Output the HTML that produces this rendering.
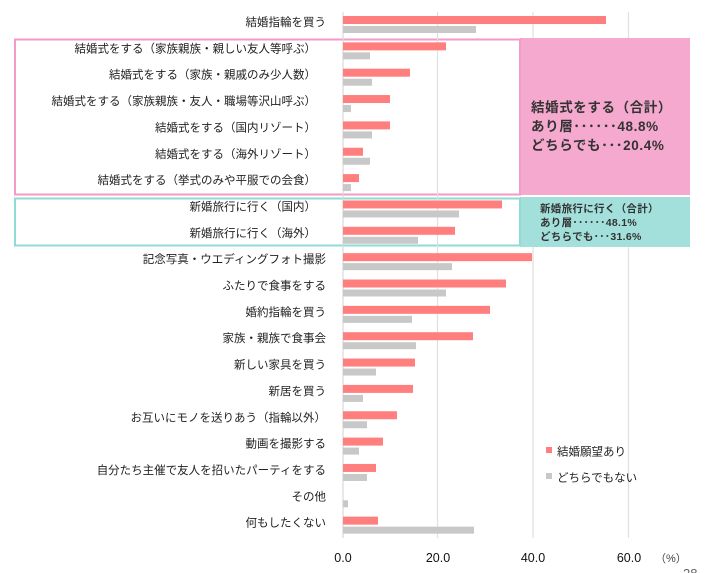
<!DOCTYPE html>
<html><head><meta charset="utf-8"><style>
html,body{margin:0;padding:0;background:#fff;}
svg{display:block;font-family:"Liberation Sans","Noto Sans CJK JP",sans-serif;}
</style></head><body>
<svg width="720" height="573" viewBox="0 0 720 573" xmlns="http://www.w3.org/2000/svg">
<rect x="0" y="0" width="720" height="573" fill="#fff"/>
<rect x="520" y="38" width="170" height="157" fill="#f5a9cf"/>
<rect x="520" y="197" width="170" height="50" fill="#a3e0dc"/>
<rect x="15" y="39.5" width="505" height="155" fill="none" stroke="#f49ac6" stroke-width="2"/>
<rect x="15" y="198.5" width="505" height="47" fill="none" stroke="#8fdbd6" stroke-width="2"/>
<g stroke="#e0e0e0" stroke-width="1.2">
<line x1="437.5" y1="12" x2="437.5" y2="538"/>
<line x1="533" y1="12" x2="533" y2="38"/><line x1="533" y1="247" x2="533" y2="538"/>
<line x1="628.5" y1="12" x2="628.5" y2="38"/><line x1="628.5" y1="247" x2="628.5" y2="538"/>
</g>
<line x1="343" y1="12" x2="343" y2="538" stroke="#d9d9d9" stroke-width="1.2"/>
<g id="bars"></g>
<g font-size="11.5" fill="#222" text-anchor="end" id="labels"></g>
<g font-size="13.5" font-weight="bold" fill="#333" letter-spacing="0.6">
<text x="531" y="112">結婚式をする（合計）</text>
<text x="531" y="131">あり層･･････48.8%</text>
<text x="531" y="150">どちらでも･･･20.4%</text>
</g>
<g font-size="10.5" font-weight="bold" fill="#333" letter-spacing="0.3">
<text x="540" y="212">新婚旅行に行く（合計）</text>
<text x="540" y="226">あり層･･････48.1%</text>
<text x="540" y="240">どちらでも･･･31.6%</text>
</g>
<rect x="546" y="447" width="6" height="6" fill="#ff7f7f"/>
<text x="557" y="455.5" font-size="11.5" fill="#222">結婚願望あり</text>
<rect x="546" y="473" width="6" height="6" fill="#c8c8c8"/>
<text x="557" y="481.5" font-size="11.5" fill="#222">どちらでもない</text>
<g font-size="12.5" fill="#111" text-anchor="middle">
<text x="343" y="562">0.0</text>
<text x="438" y="562">20.0</text>
<text x="533" y="562">40.0</text>
<text x="629" y="562">60.0</text>
</g>
<text x="655" y="562" font-size="11" fill="#444">（%）</text>
<text x="683" y="578" font-size="13" fill="#666">28</text>
<script>
var rows=[
["結婚指輪を買う",606,476],
["結婚式をする（家族親族・親しい友人等呼ぶ）",446,370],
["結婚式をする（家族・親戚のみ少人数）",410,372],
["結婚式をする（家族親族・友人・職場等沢山呼ぶ）",390,351],
["結婚式をする（国内リゾート）",390,372],
["結婚式をする（海外リゾート）",363,370],
["結婚式をする（挙式のみや平服での会食）",359,351],
["新婚旅行に行く（国内）",502,459],
["新婚旅行に行く（海外）",455,418],
["記念写真・ウエディングフォト撮影",532,452],
["ふたりで食事をする",506,446],
["婚約指輪を買う",490,412],
["家族・親族で食事会",473,416],
["新しい家具を買う",415,376],
["新居を買う",413,363],
["お互いにモノを送りあう（指輪以外）",397,367],
["動画を撮影する",383,359],
["自分たち主催で友人を招いたパーティをする",376,367],
["その他",343,348],
["何もしたくない",378,474]];
var ns="http://www.w3.org/2000/svg",b=document.getElementById("bars"),l=document.getElementById("labels");
rows.forEach(function(r,i){
 var y=16+i*26.35;
 if(r[1]>343){var p=document.createElementNS(ns,"rect");p.setAttribute("x",343);p.setAttribute("y",y);p.setAttribute("width",r[1]-343);p.setAttribute("height",8);p.setAttribute("fill","#ff7f7f");b.appendChild(p);}
 var g=document.createElementNS(ns,"rect");g.setAttribute("x",343);g.setAttribute("y",y+10);g.setAttribute("width",r[2]-343);g.setAttribute("height",7);g.setAttribute("fill","#c8c8c8");b.appendChild(g);
 var t=document.createElementNS(ns,"text");t.setAttribute("x",(i>=1&&i<=8)?316:326);t.setAttribute("y",y+10);t.textContent=r[0];l.appendChild(t);
});
</script>
</svg>
</body></html>
